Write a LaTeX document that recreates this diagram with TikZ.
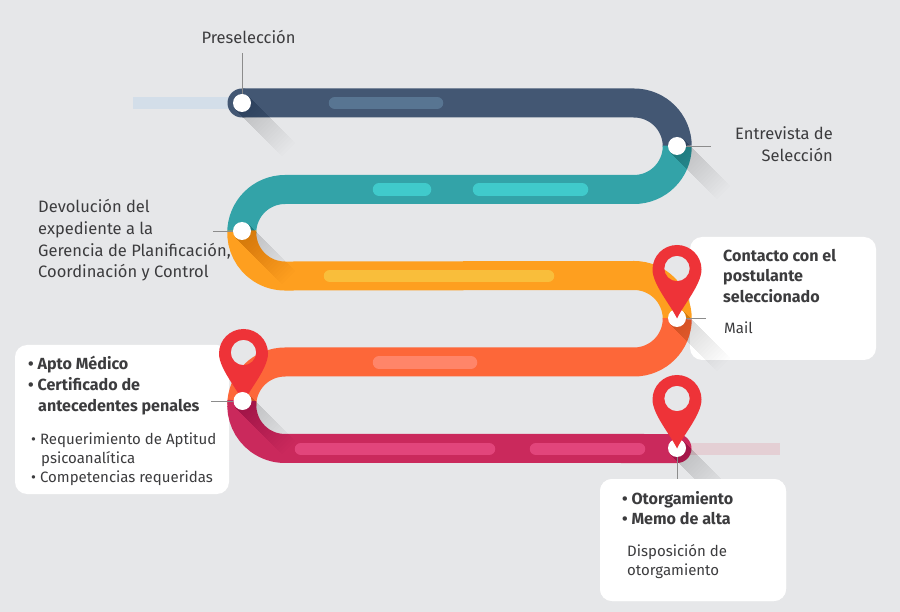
\documentclass[tikz,border=0pt]{standalone}
\usepackage{fontspec}
\setmainfont{Fira Sans}
\definecolor{fondo}{HTML}{E6E7E9}
\definecolor{texto}{HTML}{3C3C3E}
\definecolor{azul}{HTML}{435773}
\definecolor{azulclaro}{HTML}{587592}
\definecolor{azulpalido}{HTML}{D3DEE9}
\definecolor{turquesa}{HTML}{33A3A8}
\definecolor{turquesaclaro}{HTML}{40CACB}
\definecolor{naranja}{HTML}{FE9F1F}
\definecolor{naranjaclaro}{HTML}{F9BE3B}
\definecolor{coral}{HTML}{FD6739}
\definecolor{coralclaro}{HTML}{FF8569}
\definecolor{fucsia}{HTML}{CA295C}
\definecolor{fucsiaclaro}{HTML}{E2457B}
\definecolor{fucsiapalido}{HTML}{E4CFD4}
\definecolor{rojopin}{HTML}{EE3338}
\tikzset{
  banda/.style={line width=29pt},
  brillo/.style={line width=12.5pt,line cap=round},
  punto/.style={circle,fill=white,minimum size=18pt,inner sep=0pt},
  guia/.style={draw=black!45,line width=0.9pt},
  tarjeta/.style={fill=white,rounded corners=12pt},
  rotulo/.style={text=texto,inner sep=0pt,font=\fontsize{16.5}{21.7}\selectfont},
  menor/.style={text=texto,inner sep=0pt,font=\fontsize{15}{19}\selectfont,align=left},
  fuerte/.style={text=texto,inner sep=0pt,font=\fontsize{16.1}{20.7}\selectfont\bfseries,align=left},
  sombra/.style={fill=black,fill opacity=0.0065},
  pics/mapapin/.style={code={
    \fill[rojopin,even odd rule] (0,0) .. controls (-6,-13) and (-24.5,-34) .. (-24.5,-49)
      arc (180:360:24.5) .. controls (24.5,-34) and (6,-13) .. (0,0)
      (0,-50) circle (12.7);
  }}
}
\begin{document}
\begin{tikzpicture}[x=1pt,y=-1pt]
  \useasboundingbox (0,0) rectangle (900,612);
  \fill[fondo] (0,0) rectangle (900,612);
  % tarjetas
  \fill[tarjeta] (690,237) rectangle (876,360);
  \fill[tarjeta] (15,345) rectangle (229,494);
  \fill[tarjeta] (600,479) rectangle (786,601);
  % tramos claros
  \fill[azulpalido] (133,97) rectangle (235,109);
  \fill[fucsiapalido] (685,443) rectangle (780,455);
  % camino
  \fill[azul] (242,103) circle (14.5);
  \draw[banda,azul] (242,103) -- (634,103) arc (-90:0:43.25);
  \draw[banda,turquesa] (677.25,146.25) arc (0:90:43.25) -- (285,189.5) arc (-90:-180:43.25);
  \draw[banda,naranja] (241.81,230.5) arc (183:90:43.25) -- (634,275.5) arc (-90:0:43.25);
  \draw[banda,coral] (677.25,318.75) arc (0:90:43.25) -- (285,362) arc (-90:-180:43.25);
  \draw[banda,fucsia] (242.01,400.5) arc (186.3:90:43.25) -- (677,448.5);
  \fill[fucsia] (677,448.5) circle (14.5);
  % brillos
  \draw[brillo,azulclaro] (335,103) -- (437,103);
  \draw[brillo,turquesaclaro] (379,189.5) -- (425,189.5);
  \draw[brillo,turquesaclaro] (479,189.5) -- (582,189.5);
  \draw[brillo,naranjaclaro] (330,276) -- (548,276);
  \draw[brillo,coralclaro] (379,362.5) -- (471,362.5);
  \draw[brillo,fucsiaclaro] (301,449) -- (489,449);
  \draw[brillo,fucsiaclaro] (536,449) -- (639,449);
  % sombras
  \foreach \xs/\ys in {242/103,677/146,242/231,677/318,242/401,677/448}{
    \begin{scope}[shift={(\xs,\ys)},rotate=-45]
      \foreach \largo in {3,6,...,66}{
        \fill[sombra] (0,-9.5) rectangle (\largo,9.5);
      }
    \end{scope}
  }
  \fill[tarjeta] (600,479) rectangle (786,601);
  % pin bajo el punto
  \pic at (243.5,402.5) {mapapin};
  % puntos
  \node[punto] (preseleccion) at (242,103) {};
  \node[punto] (entrevista) at (677,146) {};
  \node[punto] (devolucion) at (242,231) {};
  \node[punto] (contacto) at (677,318) {};
  \node[punto] (apto) at (242.5,401) {};
  \node[punto] (otorgamiento) at (677,448) {};
  % guias
  \coordinate (preseleccionfin) at (242,53);
  \coordinate (entrevistafin) at (711,146);
  \coordinate (devolucionfin) at (213,231);
  \coordinate (contactofin) at (706,318);
  \coordinate (aptofin) at (211,401);
  \coordinate (otorgamientofin) at (677,479);
  \draw[guia] (preseleccion) -- (preseleccionfin);
  \draw[guia] (entrevista) -- (entrevistafin);
  \draw[guia] (devolucion) -- (devolucionfin);
  \draw[guia] (contacto) -- (contactofin);
  \draw[guia] (apto) -- (aptofin);
  \draw[guia] (otorgamiento) -- (otorgamientofin);
  % pines
  \pic at (677,318.5) {mapapin};
  \pic at (677,448.5) {mapapin};
  % textos
  \node[rotulo,anchor=center] (preselecciontxt) at (248.5,37) {Preselección};
  \node[rotulo,anchor=east,align=right] (entrevistatxt) at (833,144) {Entrevista de\\Selección};
  \node[rotulo,anchor=west,align=left] (devoluciontxt) at (38,240.5) {Devolución del\\expediente a la\\Gerencia de Planificación,\\Coordinación y Control};
  \node[fuerte,anchor=west] (contactotxt) at (723,276) {Contacto con el\\postulante\\seleccionado};
  \node[menor,anchor=west] (mailtxt) at (724,328) {Mail};
  \node[fuerte,anchor=west] (aptotxt) at (28,385.5) {• Apto Médico\\• Certificado de\\\hspace*{10pt}antecedentes penales};
  \node[menor,anchor=west] (requerimientotxt) at (31,459) {• Requerimiento de Aptitud\\\hspace*{10pt}psicoanalítica\\• Competencias requeridas};
  \node[fuerte,anchor=west] (otorgamientotxt) at (622,508) {• Otorgamiento\\• Memo de alta};
  \node[menor,anchor=west] (disposiciontxt) at (627,561.5) {Disposición de\\otorgamiento};
\end{tikzpicture}
\end{document}
